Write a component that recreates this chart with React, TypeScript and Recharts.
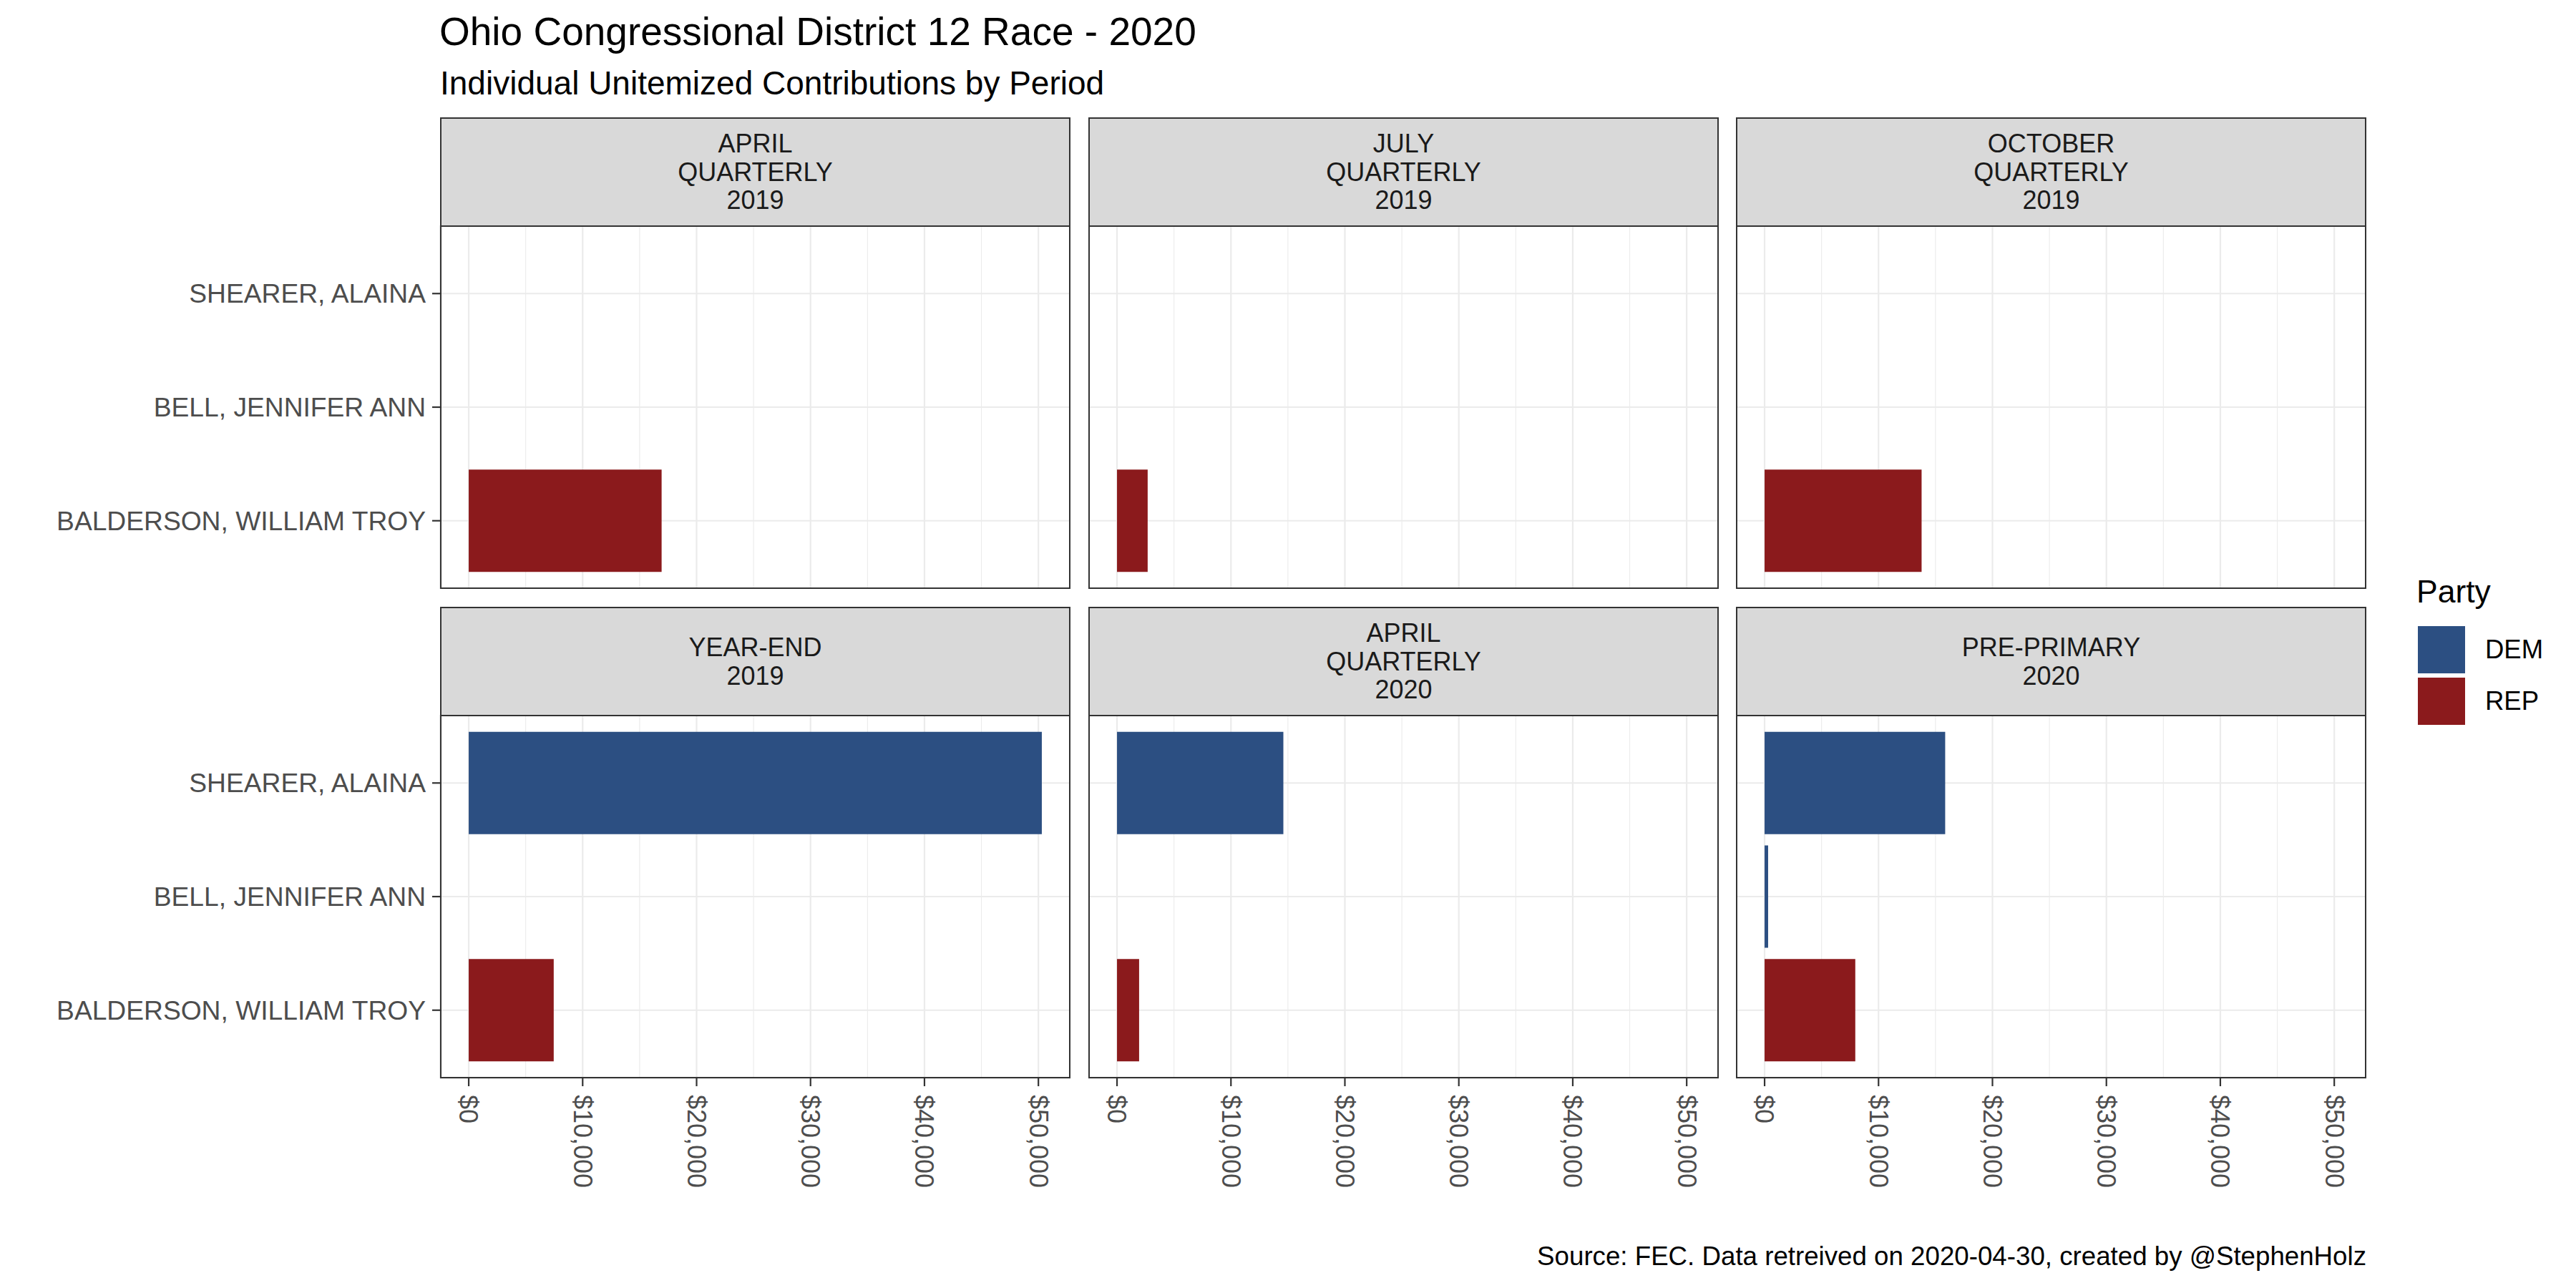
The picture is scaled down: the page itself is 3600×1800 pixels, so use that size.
import React from "react";
import { BarChart, Bar, XAxis, YAxis, CartesianGrid, Cell } from "recharts";

// candidates, top to bottom as they appear in each panel
const CANDIDATES = ["SHEARER, ALAINA", "BELL, JENNIFER ANN", "BALDERSON, WILLIAM TROY"];
const CANDIDATE_PARTY = ["DEM", "DEM", "REP"];

const PERIOD_LABELS = [
  "APRIL\nQUARTERLY\n2019",
  "JULY\nQUARTERLY\n2019",
  "OCTOBER\nQUARTERLY\n2019",
  "YEAR-END\n2019",
  "APRIL\nQUARTERLY\n2020",
  "PRE-PRIMARY\n2020",
];

// unitemized contributions ($) per candidate, same order as CANDIDATES
const APRIL_Q_2019 = [null, null, 16930];
const JULY_Q_2019 = [null, null, 2690];
const OCTOBER_Q_2019 = [null, null, 13780];
const YEAR_END_2019 = [50300, null, 7460];
const APRIL_Q_2020 = [14600, null, 1940];
const PRE_PRIMARY_2020 = [15850, 310, 7960];

const PERIOD_VALUES = [APRIL_Q_2019, JULY_Q_2019, OCTOBER_Q_2019, YEAR_END_2019, APRIL_Q_2020, PRE_PRIMARY_2020];

const MAJOR_TICKS = [0, 10000, 20000, 30000, 40000, 50000];
const MINOR_TICKS = [5000, 15000, 25000, 35000, 45000];

const PARTIES = ["DEM", "REP"];
const PARTY_COLORS: Record<string, string> = { DEM: "#2C4F82", REP: "#8B1A1C" };

// layout (px)
const COL_X = [615, 1521, 2426];
const ROW_Y = [164, 848];
const PANEL_W = 881;
const STRIP_H = 151;
const PANEL_H = 508;
const X_AXIS_H = 180;
const FONT = '"Liberation Sans", Arial, sans-serif';

// ggplot-like expansion: 5% on the continuous axis, 0.6 units on the discrete one
const maxVal = Math.max(...PERIOD_VALUES.flat().map((v) => v ?? 0));
const DOMAIN: [number, number] = [-0.05 * maxVal, 1.05 * maxVal];
const Y_PAD = (PANEL_H / (CANDIDATES.length + 0.2)) * 0.1;

const fmtDollar = (v: number) => `$${v.toLocaleString("en-US")}`;

function RotatedTick(props: any) {
  const { x, y, payload } = props;
  return (
    <text
      x={x}
      y={y}
      transform={`rotate(90, ${x}, ${y})`}
      dy="0.35em"
      textAnchor="start"
      fill="#4D4D4D"
      fontSize={36}
    >
      {fmtDollar(payload.value)}
    </text>
  );
}

function Panel({ idx }: { idx: number }) {
  const r = Math.floor(idx / 3);
  const c = idx % 3;
  const showY = c === 0;
  const showX = r === 1;
  const yAxisW = showY ? COL_X[0] : 0;
  const chartLeft = showY ? 0 : COL_X[c];
  const panelTop = ROW_Y[r] + STRIP_H;

  const data = CANDIDATES.map((name, i) => ({
    name,
    party: CANDIDATE_PARTY[i],
    amount: PERIOD_VALUES[idx][i],
  }));

  return (
    <>
      {/* strip */}
      <div
        style={{
          position: "absolute",
          left: COL_X[c],
          top: ROW_Y[r],
          width: PANEL_W,
          height: STRIP_H + 2,
          boxSizing: "border-box",
          border: "2px solid #333333",
          background: "#D9D9D9",
          color: "#1A1A1A",
          fontSize: 36,
          lineHeight: "39.5px",
          whiteSpace: "pre-line",
          textAlign: "center",
          display: "flex",
          alignItems: "center",
          justifyContent: "center",
        }}
      >
        {PERIOD_LABELS[idx]}
      </div>

      <div style={{ position: "absolute", left: chartLeft, top: panelTop }}>
        <BarChart
          layout="vertical"
          width={yAxisW + PANEL_W}
          height={PANEL_H + (showX ? X_AXIS_H : 0)}
          data={data}
          margin={{ top: 0, right: 0, bottom: 0, left: 0 }}
          barCategoryGap="5%"
        >
          <XAxis xAxisId="minor" type="number" domain={DOMAIN} ticks={MINOR_TICKS} allowDataOverflow hide />
          <XAxis
            type="number"
            domain={DOMAIN}
            ticks={MAJOR_TICKS}
            allowDataOverflow
            hide={!showX}
            height={X_AXIS_H}
            interval={0}
            axisLine={false}
            tickLine={{ stroke: "#333333", strokeWidth: 2.2 }}
            tickSize={11}
            tickMargin={12}
            tick={<RotatedTick />}
          />
          <YAxis
            type="category"
            dataKey="name"
            hide={!showY}
            width={yAxisW}
            padding={{ top: Y_PAD, bottom: Y_PAD }}
            interval={0}
            axisLine={false}
            tickLine={{ stroke: "#333333", strokeWidth: 2.2 }}
            tickSize={11}
            tickMargin={9}
            tick={{ fill: "#4D4D4D", fontSize: 37.2 }}
          />
          <CartesianGrid xAxisId="minor" horizontal={false} stroke="#EBEBEB" strokeWidth={1.1} />
          <CartesianGrid stroke="#EBEBEB" strokeWidth={2.2} />
          <Bar dataKey="amount" isAnimationActive={false}>
            {data.map((d) => (
              <Cell key={d.name} fill={PARTY_COLORS[d.party]} />
            ))}
          </Bar>
        </BarChart>
      </div>

      {/* panel border */}
      <div
        style={{
          position: "absolute",
          left: COL_X[c],
          top: panelTop,
          width: PANEL_W,
          height: PANEL_H,
          boxSizing: "border-box",
          border: "2px solid #333333",
          pointerEvents: "none",
        }}
      />
    </>
  );
}

export default function App() {
  return (
    <div
      style={{
        position: "absolute",
        left: 0,
        top: 0,
        width: 3600,
        height: 1800,
        background: "#FFFFFF",
        fontFamily: FONT,
        overflow: "hidden",
      }}
    >
      <div style={{ position: "absolute", left: 614, top: 12, fontSize: 55, color: "#000", whiteSpace: "nowrap" }}>
        Ohio Congressional District 12 Race - 2020
      </div>
      <div style={{ position: "absolute", left: 615, top: 89, fontSize: 46, color: "#000", whiteSpace: "nowrap" }}>
        Individual Unitemized Contributions by Period
      </div>

      {PERIOD_LABELS.map((_, i) => (
        <Panel key={i} idx={i} />
      ))}

      {/* legend */}
      <div style={{ position: "absolute", left: 3377, top: 802, fontSize: 44.5, color: "#000" }}>Party</div>
      {PARTIES.map((p, i) => (
        <React.Fragment key={p}>
          <div
            style={{
              position: "absolute",
              left: 3379,
              top: 875 + i * 72,
              width: 66,
              height: 66,
              background: PARTY_COLORS[p],
            }}
          />
          <div
            style={{
              position: "absolute",
              left: 3473,
              top: 875 + i * 72,
              height: 66,
              lineHeight: "66px",
              fontSize: 36.5,
              color: "#000",
            }}
          >
            {p}
          </div>
        </React.Fragment>
      ))}

      {/* caption */}
      <div
        style={{
          position: "absolute",
          right: 3600 - 3307,
          top: 1735,
          fontSize: 36.7,
          color: "#000",
          whiteSpace: "nowrap",
        }}
      >
        Source: FEC. Data retreived on 2020-04-30, created by @StephenHolz
      </div>
    </div>
  );
}
